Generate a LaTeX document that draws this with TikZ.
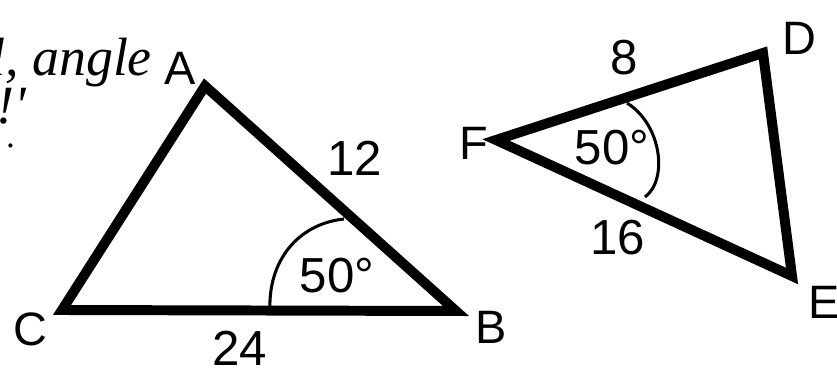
\documentclass[tikz,border=0pt]{standalone}
\usepackage{fontspec}
\setmainfont{Liberation Sans}
\newfontfamily\handfont{Liberation Serif}
\begin{document}
\begin{tikzpicture}[
    x=0.03cm, y=-0.03cm,
    side/.style={
        line width=8.5pt,
        line join=miter
    },
    anglearc/.style={
        line width=2.6pt
    },
    vlabel/.style={
        font=\fontsize{40}{40}\selectfont,
        inner sep=0pt
    },
    numlabel/.style={
        font=\fontsize{42}{42}\selectfont,
        inner sep=0pt
    },
    hand/.style={
        font=\handfont\itshape\fontsize{46}{46}\selectfont,
        inner sep=0pt
    }
]
    \useasboundingbox (0,0) rectangle (837,370);

    % first triangle
    \coordinate (A) at (205,86);
    \coordinate (B) at (456,311);
    \coordinate (C) at (62,310);
    \draw[side] (A) -- (B) -- (C) -- cycle;
    \coordinate (arcB1) at (270,310);
    \coordinate (arcB2) at (344,219);
    \draw[anglearc] (arcB1) .. controls (268,262) and (297,224) .. (arcB2);

    \node[vlabel] (labA) at (180,68) {A};
    \node[vlabel] (labB) at (491,327) {B};
    \node[vlabel] (labC) at (30,329) {C};
    \node[numlabel] (sideAB) at (355,158) {12};
    \node[numlabel] (sideCB) at (240,348) {24};
    \node[numlabel] (angB) at (337,276) {50°};

    % second triangle
    \coordinate (D) at (763,53);
    \coordinate (E) at (792,276);
    \coordinate (F) at (496,140);
    \draw[side] (F) -- (D) -- (E) -- cycle;
    \coordinate (arcF1) at (627,103);
    \coordinate (arcF2) at (645,197);
    \draw[anglearc] (arcF1) .. controls (662,125) and (668,180) .. (arcF2);

    \node[vlabel] (labD) at (799,38) {D};
    \node[vlabel] (labE) at (824,302) {E};
    \node[vlabel] (labF) at (474,143) {F};
    \node[numlabel] (sideFD) at (624,58) {8};
    \node[numlabel] (sideFE) at (618,238) {16};
    \node[numlabel] (angF) at (612,148) {50°};

    % handwritten note
    \node[hand, anchor=base west] (note1) at (-10,76) {l, angle};
    \node[hand, anchor=base west] (note2) at (-4,124) {!'};
    \node[hand, font=\handfont\fontsize{30}{30}\selectfont, anchor=base west] (note3) at (6,148) {.};
\end{tikzpicture}
\end{document}
